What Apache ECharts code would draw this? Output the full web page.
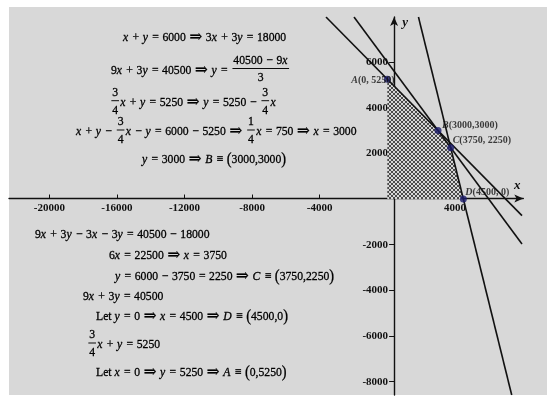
<!DOCTYPE html>
<html><head><meta charset="utf-8">
<script src="https://cdn.jsdelivr.net/npm/echarts@6/dist/echarts.min.js"></script>
<style>html,body{margin:0;padding:0;background:#fff}#c{width:560px;height:409px}</style>
</head><body><div id="c"></div>
<script>
// ---- data ----
const xTicks = [-20000, -16000, -12000, -8000, -4000, 4000];
const yTicks = [-8000, -6000, -4000, -2000, 2000, 4000, 6000];
const lineA = [[-3628, 7971], [7970, -728]];    // 3/4x + y = 5250
const lineB = [[-1971, 7971], [7970, -1970]];   // x + y = 6000
const lineC = [[1843, 7971], [7361, -8584]];    // 9x + 3y = 40500
const feasible = [[0, 5250], [3000, 3000], [3750, 2250], [4500, 0]];
const pointNames = ['A', 'B', 'C', 'D'];
const pointCoords = ['(0, 5250)', '(3000,3000)', '(3750, 2250)', '(4500, 0)'];
const pointValues = [[0, 5250], [3000, 3000], [3750, 2250], [4500, 0]];
const topEquations = [
  'x+y=6000⇒3x+3y=18000',
  '9x+3y=40500⇒y={40500−9x/3}',
  '{3/4}x+y=5250⇒y=5250−{3/4}x',
  'x+y−{3/4}x−y=6000−5250⇒{1/4}x=750⇒x=3000',
  'y=3000⇒B≡(3000,3000)'
];
const bottomEquations = [
  '9x+3y−3x−3y=40500−18000',
  '6x=22500⇒x=3750',
  'y=6000−3750=2250⇒C≡(3750,2250)',
  '9x+3y=40500',
  'Let y=0⇒x=4500⇒D≡(4500,0)',
  '{3/4}x+y=5250',
  'Let x=0⇒y=5250⇒A≡(0,5250)'
];

// ---- layout ----
const topPos = [[123, 37.5], [111, 70.5], [110, 102.7], [76, 132], [142, 159.5]];
const bottomPos = [[35, 235], [109, 256], [115, 277], [83, 297], [96, 317], [87, 345], [96, 373]];
const labelOffsets = [[-36, 1], [4, -5.5], [2, -7.5], [2, -7]];

const FS = 13, SX = 0.9;
const FAM = '"Liberation Serif","DejaVu Serif",serif';
const PAD = {'+': 4, '−': 4, '=': 4, '≡': 4, '⇒': 4};
const INK = '#000';
const mctx = document.createElement('canvas').getContext('2d');
function isIt(ch) { return /[xyABCD]/.test(ch); }
function fontFor(ch) {
  if (isIt(ch)) return 'italic ' + FS + 'px ' + FAM;
  if (ch === '(' || ch === ')') return (FS + 3) + 'px ' + FAM;
  if (ch === '⇒') return (FS + 4) + 'px ' + FAM;
  return FS + 'px ' + FAM;
}
function runText(str, x, y, out) {
  for (const ch of str) {
    if (ch === ' ') { mctx.font = fontFor('a'); x += mctx.measureText(' ').width; continue; }
    const f = fontFor(ch); const p = PAD[ch] || 0;
    x += p; mctx.font = f;
    const w = mctx.measureText(ch).width;
    if (out) out.push({type: 'text', x: x, y: y, silent: true,
      style: {text: ch, font: f, fill: INK, stroke: INK, lineWidth: 0.3, textAlign: 'left', textVerticalAlign: 'middle', align: 'left', verticalAlign: 'middle'}});
    x += w + p;
    if (isIt(ch)) x += 0.8;
  }
  return x;
}
function layoutLine(s, left, cy) {
  const out = []; let x = 0; const re = /\{([^}]*)\}/g; let last = 0, m;
  while ((m = re.exec(s))) {
    x = runText(s.slice(last, m.index), x, 0, out);
    const inner = m[1]; const k = inner.lastIndexOf('/');
    const num = inner.slice(0, k), den = inner.slice(k + 1);
    const wn = runText(num, 0, 0, null), wd = runText(den, 0, 0, null);
    const w = Math.max(wn, wd) + 2;
    x += 1.5;
    runText(num, x + (w - wn) / 2, -10, out);
    runText(den, x + (w - wd) / 2, 7.5, out);
    out.push({type: 'line', silent: true, shape: {x1: x, y1: -2, x2: x + w, y2: -2}, style: {stroke: INK, lineWidth: 1}});
    x += w + 1.5;
    last = re.lastIndex;
  }
  runText(s.slice(last), x, 0, out);
  return {type: 'group', x: left, y: cy, scaleX: SX, children: out};
}

// hatch pattern
const pc = document.createElement('canvas'); pc.width = 4; pc.height = 4;
const pg = pc.getContext('2d');
pg.fillStyle = '#d6d6d6'; pg.fillRect(0, 0, 4, 4); pg.fillStyle = '#4a4a4a';
[[0,0],[1,1],[2,2],[3,3],[3,0],[2,1],[1,2],[0,3]].forEach(([a, b]) => pg.fillRect(a, b, 1, 1));

const chart = echarts.init(document.getElementById('c'), null, {renderer: 'canvas'});
const tickFont = {fontFamily: 'Liberation Serif', fontWeight: 'bold', fontSize: 11, color: '#111'};
const lineStyle = {color: '#111', width: 1.6};
const GRID = {left: 9, right: 36.7, top: 17, bottom: 14};

const graphics = [{type: 'rect', z: -10, silent: true, shape: {x: 9, y: 7, width: 538, height: 388}, style: {fill: '#d8d8d8'}}];
topEquations.forEach((s, i) => graphics.push(layoutLine(s, topPos[i][0], topPos[i][1])));
bottomEquations.forEach((s, i) => graphics.push(layoutLine(s, bottomPos[i][0], bottomPos[i][1])));

const option = {
  animation: false,
  backgroundColor: '#ffffff',
  grid: Object.assign({show: false}, GRID),
  xAxis: {
    type: 'value', min: -22385, max: 8047, position: 'bottom',
    axisLine: {onZero: false, lineStyle: {color: '#111', width: 1.4}, symbol: ['none', 'arrow'], symbolSize: [6, 9]},
    axisTick: {show: true, inside: true, length: 4, customValues: xTicks, lineStyle: {color: '#111'}},
    axisLabel: Object.assign({customValues: xTicks, formatter: v => String(v), margin: 4}, tickFont),
    splitLine: {show: false}
  },
  yAxis: {
    type: 'value', min: -8584, max: 7971, position: 'left',
    axisLine: {onZero: false, lineStyle: {color: '#111', width: 1.4}, symbol: ['none', 'arrow'], symbolSize: [6, 9]},
    axisTick: {show: true, inside: false, length: 5, customValues: yTicks, lineStyle: {color: '#111'}},
    axisLabel: Object.assign({customValues: yTicks, formatter: v => String(v), margin: 6}, tickFont),
    splitLine: {show: false}
  },
  graphic: {elements: graphics},
  series: [
    {type: 'line', data: feasible, symbol: 'none', lineStyle: {width: 0}, areaStyle: {color: {image: pc, repeat: 'repeat'}, opacity: 1}, z: 1, silent: true},
    {type: 'line', data: lineA, symbol: 'none', lineStyle: lineStyle, z: 3},
    {type: 'line', data: lineB, symbol: 'none', lineStyle: lineStyle, z: 3},
    {type: 'line', data: lineC, symbol: 'none', lineStyle: lineStyle, z: 3},
    {type: 'scatter', z: 5, symbolSize: 7, itemStyle: {color: '#1b1b6b'},
      data: pointValues.map((v, i) => ({value: v, label: {offset: labelOffsets[i]}})),
      label: {show: true, position: 'inside', align: 'left', verticalAlign: 'middle',
        formatter: p => '{i|' + pointNames[p.dataIndex] + '}{b|' + pointCoords[p.dataIndex] + '}',
        rich: {
          i: {fontFamily: 'Liberation Serif', fontStyle: 'italic', fontWeight: 'bold', fontSize: 10, color: '#111'},
          b: {fontFamily: 'Liberation Serif', fontWeight: 'bold', fontSize: 10, color: '#111'}
        }}
    }
  ]
};
chart.setOption(option);
// move the axes so they cross at the origin
const o = chart.convertToPixel({gridIndex: 0}, [0, 0]);
const gridBottom = 409 - GRID.bottom;
const px = chart.convertToPixel({gridIndex: 0}, [8047, 0]);
const py = chart.convertToPixel({gridIndex: 0}, [0, 7971]);
const axisNameStyle = {font: 'italic bold 13px ' + FAM, fill: '#111', textAlign: 'center', textVerticalAlign: 'middle', align: 'center', verticalAlign: 'middle'};
graphics.push({type: 'text', silent: true, x: px[0] - 6, y: px[1] - 13, style: Object.assign({text: 'x'}, axisNameStyle)});
graphics.push({type: 'text', silent: true, x: py[0] + 11, y: py[1] + 6, style: Object.assign({text: 'y'}, axisNameStyle)});
chart.setOption({
  xAxis: {offset: -(gridBottom - o[1])},
  yAxis: {offset: -(o[0] - GRID.left)},
  graphic: {elements: graphics}
});
</script>
</body></html>
